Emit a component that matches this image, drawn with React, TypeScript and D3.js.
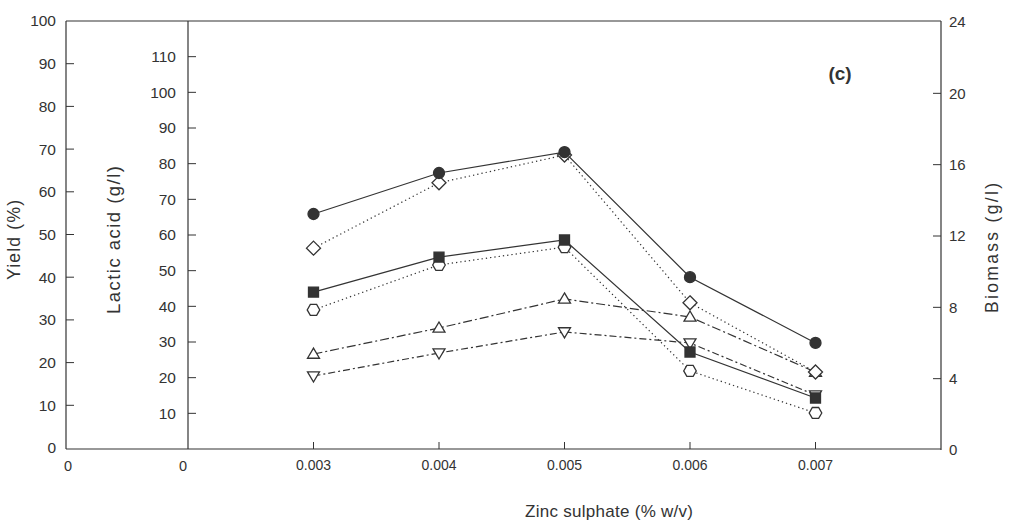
import React from "react";
import * as d3 from "d3";

// ---- data ----
const zinc = [0.003, 0.004, 0.005, 0.006, 0.007];
const xTickLabels = ["0.003", "0.004", "0.005", "0.006", "0.007"];

// yield axis (%) series
const yieldFilledCircle = [54.8, 64.4, 69.3, 40.0, 24.6];
const yieldOpenDiamond = [46.8, 62.1, 68.6, 34.0, 17.8];
// lactic acid axis (g/l) series
const lacticFilledSquare = [44.0, 53.8, 58.6, 27.2, 14.3];
const lacticOpenHexagon = [39.0, 51.6, 56.6, 21.9, 10.1];
// biomass axis (g/l) series
const biomassUpTriangle = [5.38, 6.84, 8.47, 7.46, 4.37];
const biomassDownTriangle = [4.15, 5.44, 6.62, 6.0, 3.08];

const yieldTicks = [0, 10, 20, 30, 40, 50, 60, 70, 80, 90, 100];
const lacticTicks = [10, 20, 30, 40, 50, 60, 70, 80, 90, 100, 110];
const biomassTicks = [0, 4, 8, 12, 16, 20, 24];

const W = 1018;
const H = 532;
const TOP = 21;
const BOTTOM = 449;
const YIELD_X = 66;
const FONT = "'Liberation Sans', Arial, Helvetica, sans-serif";
const INK = "#333";

const x = d3.scaleLinear().domain([0.002, 0.008]).range([188, 941]);
const yYield = d3.scaleLinear().domain([0, 100]).range([BOTTOM - 1, TOP]);
const yLactic = d3.scaleLinear().domain([0, 120]).range([BOTTOM, TOP]);
const yBio = d3.scaleLinear().domain([0, 24]).range([BOTTOM + 1, TOP + 1]);

type Shape = "circle" | "square" | "diamond" | "hexagon" | "up" | "down";

function markerPath(shape: Shape, cx: number, cy: number): string {
  switch (shape) {
    case "circle": {
      const r = 5.5;
      return `M${cx - r},${cy}a${r},${r} 0 1,0 ${2 * r},0a${r},${r} 0 1,0 ${-2 * r},0Z`;
    }
    case "square": {
      const s = 5;
      return `M${cx - s},${cy - s}h${2 * s}v${2 * s}h${-2 * s}Z`;
    }
    case "diamond": {
      const s = 7;
      return `M${cx},${cy - s}L${cx + s},${cy}L${cx},${cy + s}L${cx - s},${cy}Z`;
    }
    case "hexagon": {
      const r = 6.3;
      const pts = d3.range(6).map((i) => {
        const a = (Math.PI / 3) * i;
        return [cx + r * Math.cos(a), cy + r * Math.sin(a)];
      });
      return "M" + pts.map((p) => p.join(",")).join("L") + "Z";
    }
    case "up": {
      const s = 6;
      return `M${cx},${cy - s}L${cx + s},${cy + s * 0.7}L${cx - s},${cy + s * 0.7}Z`;
    }
    case "down": {
      const s = 6;
      return `M${cx},${cy + s}L${cx + s},${cy - s * 0.7}L${cx - s},${cy - s * 0.7}Z`;
    }
  }
}

interface Series {
  values: number[];
  scale: d3.ScaleLinear<number, number>;
  shape: Shape;
  filled: boolean;
  dash: string | undefined;
}

const series: Series[] = [
  { values: biomassUpTriangle, scale: yBio, shape: "up", filled: false, dash: "9,3,2,3" },
  { values: biomassDownTriangle, scale: yBio, shape: "down", filled: false, dash: "7,3,2,3" },
  { values: lacticOpenHexagon, scale: yLactic, shape: "hexagon", filled: false, dash: "1.3,3" },
  { values: yieldOpenDiamond, scale: yYield, shape: "diamond", filled: false, dash: "1.3,3" },
  { values: lacticFilledSquare, scale: yLactic, shape: "square", filled: true, dash: undefined },
  { values: yieldFilledCircle, scale: yYield, shape: "circle", filled: true, dash: undefined },
];

export default function App() {
  const line = (s: Series) =>
    d3
      .line<number>()
      .x((_, i) => x(zinc[i]))
      .y((v) => s.scale(v))(s.values) as string;

  return (
    <svg width={W} height={H} style={{ position: "absolute", left: 0, top: 0, background: "#fff" }} fontFamily={FONT}>
      <rect x={0} y={0} width={W} height={H} fill="#fff" />
      {/* frame */}
      <g stroke={INK} strokeWidth={1.2} fill="none">
        <line x1={YIELD_X} y1={TOP} x2={x(0.008)} y2={TOP} />
        <line x1={YIELD_X} y1={TOP} x2={YIELD_X} y2={BOTTOM} />
        <line x1={x(0.002)} y1={TOP} x2={x(0.002)} y2={BOTTOM} />
        <line x1={x(0.008)} y1={TOP} x2={x(0.008)} y2={BOTTOM + 1} />
        <line x1={YIELD_X} y1={BOTTOM} x2={x(0.008)} y2={BOTTOM} />
      </g>
      {/* yield axis ticks */}
      {yieldTicks.map((t) => (
        <g key={"y" + t}>
          {t > 0 && t < 100 && (
            <line x1={YIELD_X} x2={YIELD_X + 8} y1={yYield(t)} y2={yYield(t)} stroke={INK} strokeWidth={1} />
          )}
          <text x={YIELD_X - 10} y={yYield(t)} dy="0.35em" textAnchor="end" fontSize={15.5} fill={INK}>
            {t}
          </text>
        </g>
      ))}
      {/* lactic axis ticks */}
      {lacticTicks.map((t) => (
        <g key={"l" + t}>
          <line x1={x(0.002)} x2={x(0.002) + 8} y1={yLactic(t)} y2={yLactic(t)} stroke={INK} strokeWidth={1} />
          <text x={x(0.002) - 12} y={yLactic(t)} dy="0.35em" textAnchor="end" fontSize={15.5} fill={INK}>
            {t}
          </text>
        </g>
      ))}
      {/* biomass axis ticks */}
      {biomassTicks.map((t) => (
        <g key={"b" + t}>
          {t > 0 && t < 24 && (
            <line x1={x(0.008) - 8} x2={x(0.008)} y1={yBio(t)} y2={yBio(t)} stroke={INK} strokeWidth={1} />
          )}
          <text x={x(0.008) + 8} y={yBio(t)} dy="0.35em" textAnchor="start" fontSize={15} fill={INK}>
            {t}
          </text>
        </g>
      ))}
      {/* x ticks */}
      {zinc.map((z, i) => (
        <g key={"x" + z}>
          <line x1={x(z)} x2={x(z)} y1={BOTTOM} y2={BOTTOM - 7} stroke={INK} strokeWidth={1} />
          <text x={x(z)} y={BOTTOM + 21} textAnchor="middle" fontSize={14} fill={INK}>
            {xTickLabels[i]}
          </text>
        </g>
      ))}
      <text x={YIELD_X + 2} y={BOTTOM + 22} textAnchor="middle" fontSize={14.5} fill={INK}>0</text>
      <text x={x(0.002) - 5} y={BOTTOM + 22} textAnchor="middle" fontSize={14.5} fill={INK}>0</text>

      {/* axis titles */}
      <text transform={`translate(20,240) rotate(-90)`} textAnchor="middle" fontSize={17.5} fill={INK}
        textLength={80} lengthAdjust="spacing">
        Yield (%)
      </text>
      <text transform={`translate(120,240) rotate(-90)`} textAnchor="middle" fontSize={18.5} fill={INK}
        textLength={148} lengthAdjust="spacing">
        Lactic acid (g/l)
      </text>
      <text transform={`translate(998,248) rotate(-90)`} textAnchor="middle" fontSize={17.5} fill={INK}
        textLength={130} lengthAdjust="spacing">
        Biomass (g/l)
      </text>
      <text x={609} y={517} textAnchor="middle" fontSize={17} fill={INK} textLength={168} lengthAdjust="spacing">
        Zinc sulphate (% w/v)
      </text>
      <text x={840} y={80} textAnchor="middle" fontSize={19} fontWeight="bold" fill={INK}>
        (c)
      </text>

      {/* series lines */}
      {series.map((s, k) => (
        <path key={"ln" + k} d={line(s)} fill="none" stroke={INK} strokeWidth={1.2} strokeDasharray={s.dash} />
      ))}
      {/* markers */}
      {series.map((s, k) =>
        s.values.map((v, i) => (
          <path
            key={`m${k}-${i}`}
            d={markerPath(s.shape, x(zinc[i]), s.scale(v))}
            fill={s.filled ? INK : "#fff"}
            stroke={INK}
            strokeWidth={1.3}
          />
        ))
      )}
    </svg>
  );
}
